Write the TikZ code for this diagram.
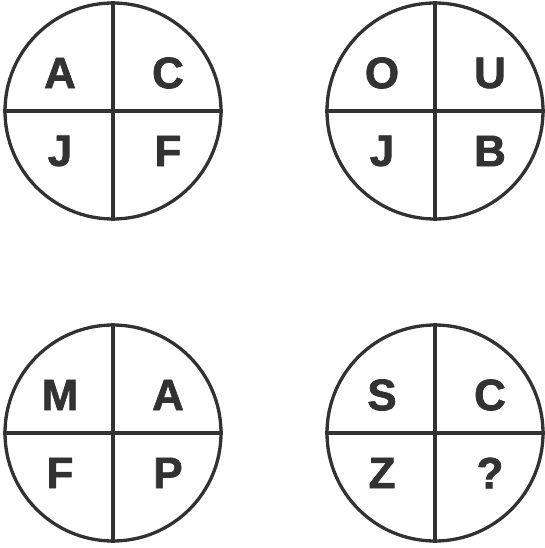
\documentclass[tikz,border=0pt]{standalone}
\usepackage{fontspec}
\setmainfont{Liberation Sans}[BoldFeatures={FakeBold=1.6}]
\usetikzlibrary{positioning}
\definecolor{ink}{RGB}{50,50,50}
\tikzset{
  disc/.style   = {draw=ink, circle, minimum size=216pt, line width=3.3pt,
                   inner sep=0pt},
  split/.style  = {draw=ink, line width=3.3pt},
  letter/.style = {font=\bfseries\fontsize{44}{44}\selectfont, text=ink,
                   inner sep=0pt},
}
\begin{document}
\begin{tikzpicture}[x=1pt, y=-1pt]
  \useasboundingbox (0,0) rectangle (545,548);

  % four circles, each cut into quarters
  \foreach \n/\x/\y in {c1/113/111, c2/435/111, c3/113/433, c4/435/433} {
    \node[disc] (\n) at (\x,\y) {};
    \draw[split] (\n.north) -- (\n.south);
    \draw[split] (\n.west)  -- (\n.east);
  }

  % letters: top left, top right, bottom left, bottom right
  \foreach \n/\tl/\tr/\bl/\br in {c1/A/C/J/F, c2/O/U/J/B,
                                   c3/M/A/F/P, c4/S/C/Z/?} {
    \node[letter] (\n tl) at ([xshift=-53pt, yshift=38pt]\n.center) {\tl};
    \node[letter] (\n tr) at ([xshift=55pt,  yshift=38pt]\n.center) {\tr};
    \node[letter] (\n bl) at ([xshift=-53pt, yshift=-40pt]\n.center) {\bl};
    \node[letter] (\n br) at ([xshift=55pt,  yshift=-40pt]\n.center) {\br};
  }
\end{tikzpicture}
\end{document}
